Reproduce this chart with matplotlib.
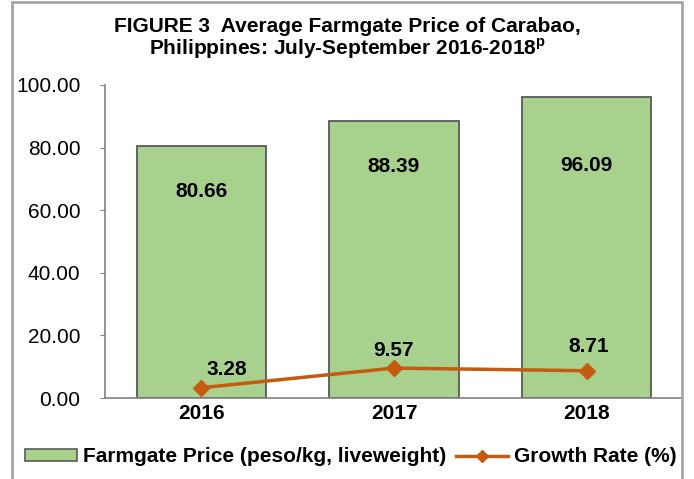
import matplotlib.pyplot as plt
from matplotlib.patches import Rectangle, Patch
from matplotlib.lines import Line2D

plt.rcParams['font.family'] = ['Liberation Sans', 'DejaVu Sans']
plt.rcParams['mathtext.fontset'] = 'custom'
plt.rcParams['mathtext.bf'] = 'Liberation Sans:bold'
plt.rcParams['mathtext.rm'] = 'Liberation Sans'

# Data
years = ['2016', '2017', '2018']
price = [80.66, 88.39, 96.09]
growth = [3.28, 9.57, 8.71]
yticks = [0, 20, 40, 60, 80, 100]

bar_color = '#A9D18E'
line_color = '#C55A11'
edge = '#595959'
fs = 15

fig = plt.figure(figsize=(6.94, 4.79), dpi=100)
ax = fig.add_axes([105 / 694, 1 - 398 / 479, 578 / 694, 313 / 479])

x = range(len(years))
ax.bar(x, price, width=0.67, color=bar_color, edgecolor=edge, linewidth=1.3, zorder=2)
ax.plot(x, growth, color=line_color, lw=2.5, marker='D', markersize=8, zorder=3)

# bar labels
label_offsets = [-46, -45, -68]
for xi, v, off in zip(x, price, label_offsets):
    ax.annotate(f'{v:.2f}', (xi, v), xytext=(0, off), textcoords='offset pixels',
                ha='center', va='center', fontsize=fs, fontweight='bold')

# line labels
line_offsets = [(25, 18), (0, 18), (2, 24)]
for xi, v, (dx, dy) in zip(x, growth, line_offsets):
    ax.annotate(f'{v:.2f}', (xi, v), xytext=(dx, dy), textcoords='offset pixels',
                ha='center', va='center', fontsize=fs, fontweight='bold')

ax.set_xlim(-0.5, 2.5)
ax.set_ylim(0, 100)
ax.set_yticks(yticks)
ax.set_yticklabels([f'{t:.2f}' for t in yticks], fontsize=fs)
ax.set_xticks(list(x))
ax.set_xticklabels(years, fontsize=fs, fontweight='bold')
ax.tick_params(axis='x', length=0, pad=4)
ax.tick_params(axis='y', length=3.6, color='#808080', pad=14)
for s in ['top', 'right']:
    ax.spines[s].set_visible(False)
for s in ['left', 'bottom']:
    ax.spines[s].set_color('#808080')
    ax.spines[s].set_linewidth(1.2)

fig.text(0.5, 1 - 27 / 479, 'FIGURE 3  Average Farmgate Price of Carabao,',
         ha='center', va='center', fontsize=fs, fontweight='bold')
fig.text(0.5, 1 - 49 / 479, r'Philippines: July-September 2016-2018$^\mathbf{p}$',
         ha='center', va='center', fontsize=fs, fontweight='bold')

handles = [Patch(facecolor=bar_color, edgecolor=edge, linewidth=1.2),
           Line2D([], [], color=line_color, lw=2.5, marker='D', markersize=6)]
fig.legend(handles, ['Farmgate Price (peso/kg, liveweight)', 'Growth Rate (%)'],
           loc='center', bbox_to_anchor=(351 / 694, 1 - 457 / 479), ncol=2, frameon=False,
           prop={'size': fs, 'weight': 'bold'}, handlelength=2.5, handleheight=0.5,
           handletextpad=0.3, columnspacing=0.45, borderpad=0)

# outer frame
fig.patches.append(Rectangle((12 / 694, -0.05), 670 / 694, 1.045, transform=fig.transFigure,
                             fill=False, edgecolor='#A6A6A6', linewidth=2))

fig.savefig('out.png', dpi=100)
